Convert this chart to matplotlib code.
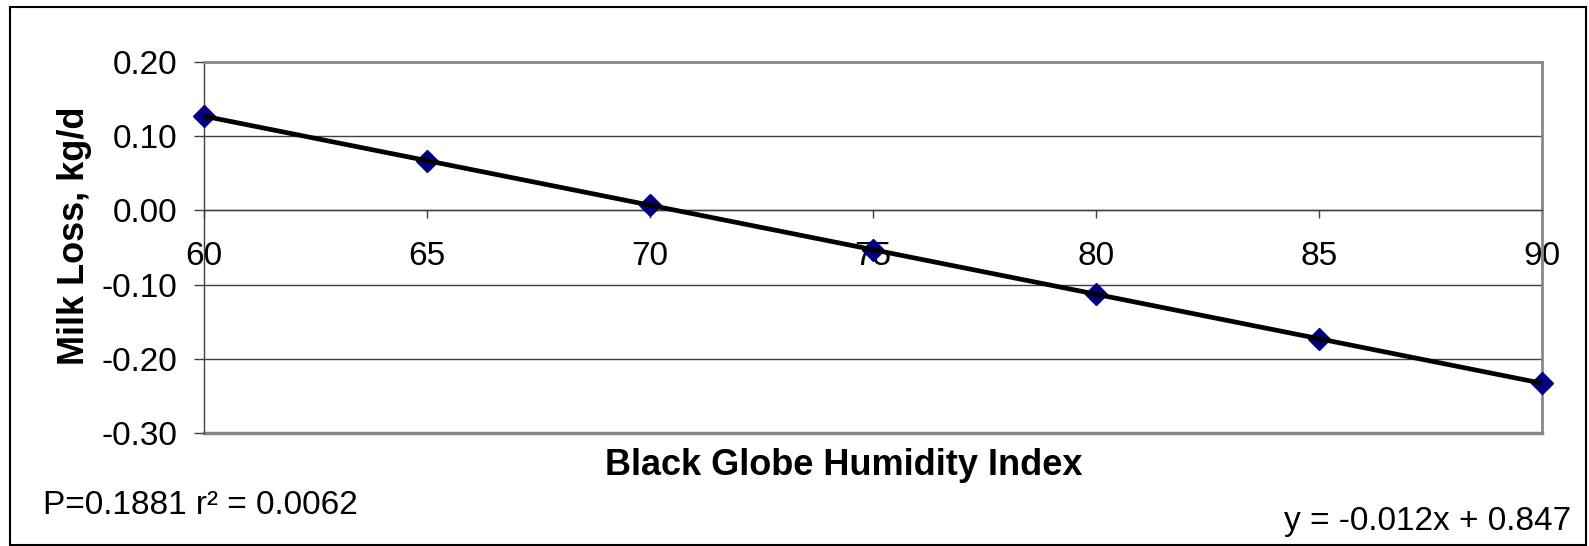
import matplotlib
matplotlib.use("Agg")
import matplotlib.pyplot as plt
import numpy as np

plt.rcParams['font.family'] = ['Liberation Sans', 'DejaVu Sans']

# data
bghi = [60, 65, 70, 75, 80, 85, 90]
milk_loss = [0.127, 0.067, 0.007, -0.053, -0.113, -0.173, -0.233]
slope, intercept = -0.012, 0.847
y_ticks = [0.20, 0.10, 0.00, -0.10, -0.20, -0.30]

fig = plt.figure(figsize=(15.89, 5.46), dpi=100)
ax = fig.add_axes([0.1284, 0.207, 0.842, 0.6795])

# points and trend line
xs = np.array([bghi[0], bghi[-1]])
ax.plot(bghi, milk_loss, linestyle='none', marker='D', markersize=11,
        color='#000080', zorder=3, clip_on=False)
ax.plot(xs, slope * xs + intercept, color='black', lw=3.4, zorder=4,
        solid_capstyle='butt')

ax.set_xlim(60, 90)
ax.set_ylim(-0.30, 0.20)
ax.set_yticks(y_ticks)
ax.set_yticklabels([f"{v:.2f}" for v in y_ticks])
ax.set_xticks(bghi)
ax.set_xticklabels([str(v) for v in bghi])

for v in y_ticks[1:-1]:
    ax.axhline(v, color='#404040', lw=1.0, zorder=1)

ax.spines['bottom'].set_position(('data', 0))
ax.spines['bottom'].set_color('#404040')
ax.spines['bottom'].set_linewidth(1.0)
ax.spines['left'].set_color('#404040')
ax.spines['left'].set_linewidth(1.0)
for s in ['top', 'right']:
    ax.spines[s].set_color('#888888')
    ax.spines[s].set_linewidth(2.0)
ax.axhline(-0.30, color='#888888', lw=2.5, zorder=2, clip_on=False)

ax.tick_params(axis='x', direction='out', length=6, width=1, color='#404040',
               labelsize=24, pad=16)
ax.tick_params(axis='y', direction='out', length=7, width=1, color='#404040',
               labelsize=24, pad=12)

fig.text(0.047, 0.569, "Milk Loss, kg/d", rotation=90, fontsize=26,
         fontweight='bold', ha='center', va='center')
fig.text(0.531, 0.148, "Black Globe Humidity Index", fontsize=26,
         fontweight='bold', ha='center', va='center')
fig.text(0.027, 0.074, "P=0.1881 r\u00b2 = 0.0062", fontsize=24,
         ha='left', va='center')
fig.text(0.989, 0.045, "y = -0.012x + 0.847", fontsize=24,
         ha='right', va='center')

# outer chart border
fig.add_artist(plt.Rectangle((10 / 1589, 0.002), 1576 / 1589, 1 - 7 / 546 - 0.002,
                             transform=fig.transFigure, fill=False,
                             edgecolor='black', lw=1.5))

fig.savefig("out.png", dpi=100)
